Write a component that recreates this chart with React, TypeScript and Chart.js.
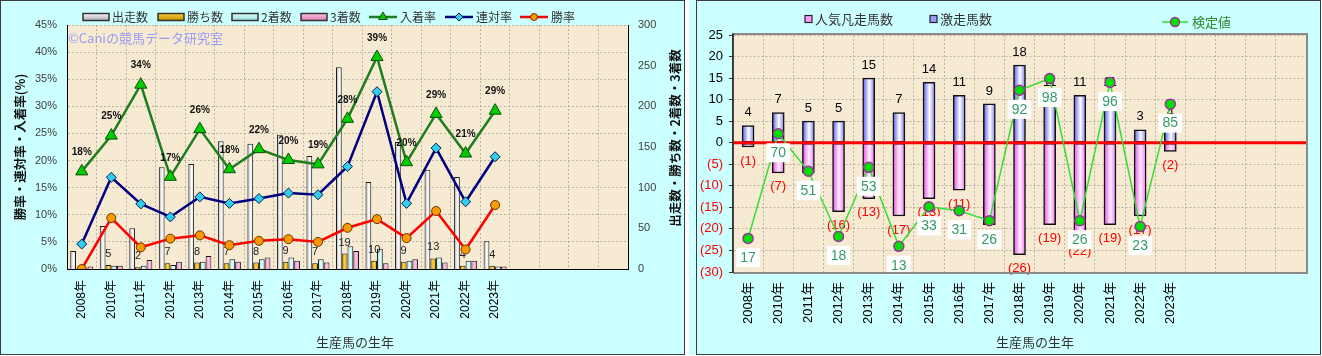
import { useEffect, useRef } from 'react';
import { Chart, registerables } from 'chart.js';

Chart.register(...registerables);

// ---------------- data: left chart ----------------
const BIRTH_YEARS = ['2008年', '2010年', '2011年', '2012年', '2013年', '2014年', '2015年', '2016年', '2017年', '2018年', '2019年', '2020年', '2021年', '2022年', '2023年'];
const SPARE_SLOTS = ['', '', '', ''];
const STARTS = [22, 53, 50, 125, 129, 157, 154, 165, 139, 248, 107, 156, 122, 113, 34];
const WINS = [0, 5, 2, 7, 8, 7, 8, 9, 7, 19, 10, 9, 13, 4, 4];
const SECONDS = [1, 4, 4, 5, 9, 12, 12, 14, 12, 28, 25, 10, 14, 10, 3];
const THIRDS = [3, 4, 11, 9, 16, 9, 14, 10, 8, 22, 7, 12, 8, 10, 3];
const WIN_RATE = [0, 9.4, 4.0, 5.6, 6.2, 4.4, 5.2, 5.5, 5.0, 7.6, 9.2, 5.7, 10.7, 3.6, 11.8];
const QUINELLA_RATE = [4.6, 16.9, 12.0, 9.6, 13.3, 12.1, 13.0, 14.0, 13.7, 18.9, 32.7, 12.1, 22.3, 12.4, 20.7];
const PLACE_RATE = [18.0, 24.6, 34.0, 17.0, 25.8, 18.4, 22.1, 20.1, 19.3, 27.7, 39.1, 19.7, 28.6, 21.3, 29.2];
const PLACE_RATE_LABELS = ['18%', '25%', '34%', '17%', '26%', '18%', '22%', '20%', '19%', '28%', '39%', '20%', '29%', '21%', '29%'];
const PCT_MIN = 0, PCT_MAX = 45, PCT_STEP = 5;
const COUNT_MIN = 0, COUNT_MAX = 300, COUNT_STEP = 50;

// ---------------- data: right chart ----------------
const SURGE_COUNT = [4, 7, 5, 5, 15, 7, 14, 11, 9, 18, 11, 11, 11, 3, 4];
const FLOP_COUNT = [-1, -7, -7, -16, -13, -17, -13, -11, -19, -26, -19, -22, -19, -17, -2];
const TEST_VALUE = [17, 70, 51, 18, 53, 13, 33, 31, 26, 92, 98, 26, 96, 23, 85];
const R_MIN = -30, R_MAX = 25, R_STEP = 5;
const TV_MIN = 0, TV_MAX = 120;

// ---------------- styles ----------------
const FONT_JP = '"Noto Sans CJK JP", "Liberation Sans", sans-serif';
const FONT_NUM = '"Liberation Sans", "Noto Sans CJK JP", sans-serif';
const PARCHMENT = '#F6EAD3';
const GRID = '#BDB3A2';
const PANEL = '#CCFFFF';
const LEFT_CAT_PCT = 0.78;
const RIGHT_BAR_W = 12;

const X_LABELS = [...BIRTH_YEARS, ...SPARE_SLOTS];

function marker(ctx: CanvasRenderingContext2D, style: string, x: number, y: number, r: number, fill: string, stroke: string, lw = 1) {
  ctx.beginPath();
  if (style === 'triangle') {
    ctx.moveTo(x, y - r);
    ctx.lineTo(x + r * 0.866, y + r * 0.5);
    ctx.lineTo(x - r * 0.866, y + r * 0.5);
    ctx.closePath();
  } else if (style === 'rectRot') {
    ctx.moveTo(x, y - r);
    ctx.lineTo(x + r, y);
    ctx.lineTo(x, y + r);
    ctx.lineTo(x - r, y);
    ctx.closePath();
  } else {
    ctx.arc(x, y, r, 0, Math.PI * 2);
  }
  ctx.fillStyle = fill;
  ctx.fill();
  ctx.lineWidth = lw;
  ctx.strokeStyle = stroke;
  ctx.stroke();
}

const leftBarFill = (k: number, stops: [number, string][], solid: string) => (c: any) => {
  const chart = c.chart;
  const xs = chart.scales && chart.scales.x;
  if (!xs || c.dataIndex == null || !chart.chartArea) return solid;
  const cw = xs.getPixelForValue(1) - xs.getPixelForValue(0);
  const bw = (cw * LEFT_CAT_PCT) / 4;
  const cx = xs.getPixelForValue(c.dataIndex) + (k - 1.5) * bw;
  if (!isFinite(cx)) return solid;
  const g = chart.ctx.createLinearGradient(cx - bw / 2, 0, cx + bw / 2, 0);
  for (const [o, col] of stops) g.addColorStop(o, col);
  return g;
};

const rightBarFill = (stops: [number, string][], solid: string) => (c: any) => {
  const chart = c.chart;
  const xs = chart.scales && chart.scales.x;
  if (!xs || c.dataIndex == null || !chart.chartArea) return solid;
  const cx = xs.getPixelForValue(c.dataIndex);
  if (!isFinite(cx)) return solid;
  const g = chart.ctx.createLinearGradient(cx - RIGHT_BAR_W / 2, 0, cx + RIGHT_BAR_W / 2, 0);
  for (const [o, col] of stops) g.addColorStop(o, col);
  return g;
};

function makeLeftChart(canvas: HTMLCanvasElement) {
  let winLabelsDone = false;
  const decor = {
    id: 'leftDecor',
    beforeDraw(chart: any) {
      const { ctx, chartArea: a } = chart;
      ctx.save();
      ctx.fillStyle = PARCHMENT;
      ctx.fillRect(a.left, a.top, a.right - a.left, a.bottom - a.top);
      ctx.restore();
    },
    beforeDatasetsDraw(chart: any) {
      winLabelsDone = false;
      const ctx = chart.ctx;
      ctx.save();
      ctx.font = `13px ${FONT_JP}`;
      ctx.fillStyle = '#9C9CF2';
      ctx.textAlign = 'left';
      ctx.textBaseline = 'middle';
      ctx.fillText('©Caniの競馬データ研究室', 68, 38);
      ctx.restore();
    },
    beforeDatasetDraw(chart: any, args: any) {
      if (args.meta.type !== 'line' || winLabelsDone) return;
      winLabelsDone = true;
      const ctx = chart.ctx;
      const meta = chart.getDatasetMeta(1);
      ctx.save();
      ctx.font = `11px ${FONT_NUM}`;
      ctx.fillStyle = '#222';
      ctx.textAlign = 'center';
      ctx.textBaseline = 'middle';
      meta.data.forEach((el: any, i: number) => {
        const v = WINS[i];
        if (!v) return;
        ctx.fillText(String(v), el.x, el.y - 11);
      });
      ctx.restore();
    },
    afterDatasetsDraw(chart: any) {
      const ctx = chart.ctx;
      const meta = chart.getDatasetMeta(4);
      ctx.save();
      ctx.font = `bold 10px ${FONT_NUM}`;
      ctx.fillStyle = '#111';
      ctx.textAlign = 'center';
      ctx.textBaseline = 'middle';
      meta.data.forEach((el: any, i: number) => {
        ctx.fillText(PLACE_RATE_LABELS[i], el.x, el.y - 19);
      });
      ctx.restore();
    },
    afterDraw(chart: any) {
      const ctx = chart.ctx;
      ctx.save();
      // legend
      const ly = 17;
      const bars = [
        { x: 83, label: '出走数', a: '#A8A8A8', b: '#FFFFFF' },
        { x: 158, label: '勝ち数', a: '#C08A00', b: '#FFD23C' },
        { x: 232, label: '2着数', a: '#8FD8DA', b: '#E8FFFF' },
        { x: 301, label: '3着数', a: '#D77AB0', b: '#FFC4E4' },
      ];
      ctx.font = `12px ${FONT_JP}`;
      ctx.textBaseline = 'middle';
      ctx.textAlign = 'left';
      for (const it of bars) {
        const g = ctx.createLinearGradient(0, ly - 4, 0, ly + 4);
        g.addColorStop(0, it.b);
        g.addColorStop(1, it.a);
        ctx.fillStyle = g;
        ctx.fillRect(it.x, ly - 3.5, 26, 7);
        ctx.lineWidth = 1.5;
        ctx.strokeStyle = '#333';
        ctx.strokeRect(it.x, ly - 3.5, 26, 7);
        ctx.fillStyle = '#333';
        ctx.fillText(it.label, it.x + 29, ly);
      }
      const lines = [
        { x: 369, label: '入着率', color: '#1E7E1E', style: 'triangle', fill: '#00CC00', stroke: '#0B4F0B', r: 5 },
        { x: 445, label: '連対率', color: '#000080', style: 'rectRot', fill: '#33CCEE', stroke: '#00224A', r: 4 },
        { x: 520, label: '勝率', color: '#FF0000', style: 'circle', fill: '#FF9900', stroke: '#663300', r: 3.5 },
      ];
      for (const it of lines) {
        ctx.beginPath();
        ctx.moveTo(it.x, ly);
        ctx.lineTo(it.x + 28, ly);
        ctx.lineWidth = 2.5;
        ctx.strokeStyle = it.color;
        ctx.stroke();
        marker(ctx, it.style, it.x + 14, ly, it.r, it.fill, it.stroke);
        ctx.fillStyle = '#333';
        ctx.fillText(it.label, it.x + 31, ly);
      }
      // axis titles
      ctx.font = `bold 12.5px ${FONT_JP}`;
      ctx.fillStyle = '#111';
      ctx.textAlign = 'center';
      ctx.save();
      ctx.translate(20, 147);
      ctx.rotate(-Math.PI / 2);
      ctx.fillText('勝率・連対率・入着率(%)', 0, 0);
      ctx.restore();
      ctx.save();
      ctx.translate(675, 138);
      ctx.rotate(-Math.PI / 2);
      ctx.fillText('出走数・勝ち数・2着数・3着数', 0, 0);
      ctx.restore();
      ctx.font = `13px ${FONT_JP}`;
      ctx.fillStyle = '#333';
      ctx.fillText('生産馬の生年', 355, 342);
      ctx.restore();
    },
  };

  return new Chart(canvas, {
    type: 'bar',
    data: {
      labels: X_LABELS,
      datasets: [
        { type: 'bar', label: '出走数', data: STARTS, yAxisID: 'y1', order: 1, backgroundColor: leftBarFill(0, [[0, '#A0A0A0'], [0.55, '#FFFFFF'], [1, '#D4D4D4']], '#F0F0F0'), borderColor: '#1A1A1A', borderWidth: 1, categoryPercentage: LEFT_CAT_PCT, barPercentage: 1 },
        { type: 'bar', label: '勝ち数', data: WINS, yAxisID: 'y1', order: 1, backgroundColor: leftBarFill(1, [[0, '#C08A00'], [0.5, '#FFD23C'], [1, '#D9A000']], '#EBB30A'), borderColor: '#1A1A1A', borderWidth: 1, categoryPercentage: LEFT_CAT_PCT, barPercentage: 1 },
        { type: 'bar', label: '2着数', data: SECONDS, yAxisID: 'y1', order: 1, backgroundColor: leftBarFill(2, [[0, '#8FD8DA'], [0.5, '#E4FFFF'], [1, '#A6E6E8']], '#B7EFF0'), borderColor: '#1A1A1A', borderWidth: 1, categoryPercentage: LEFT_CAT_PCT, barPercentage: 1 },
        { type: 'bar', label: '3着数', data: THIRDS, yAxisID: 'y1', order: 1, backgroundColor: leftBarFill(3, [[0, '#D77AB0'], [0.5, '#FFC4E4'], [1, '#E58CC0']], '#F29BC9'), borderColor: '#1A1A1A', borderWidth: 1, categoryPercentage: LEFT_CAT_PCT, barPercentage: 1 },
        { type: 'line', label: '入着率', data: PLACE_RATE, yAxisID: 'y', order: 0, borderColor: '#1E7E1E', borderWidth: 2.5, pointStyle: 'triangle', pointRadius: 7, pointBackgroundColor: '#00CC00', pointBorderColor: '#0B4F0B', pointBorderWidth: 1, tension: 0 },
        { type: 'line', label: '連対率', data: QUINELLA_RATE, yAxisID: 'y', order: 0, borderColor: '#000080', borderWidth: 2.5, pointStyle: 'rectRot', pointRadius: 5, pointBackgroundColor: '#33CCEE', pointBorderColor: '#00224A', pointBorderWidth: 1, tension: 0 },
        { type: 'line', label: '勝率', data: WIN_RATE, yAxisID: 'y', order: 0, borderColor: '#FF0000', borderWidth: 2.5, pointStyle: 'circle', pointRadius: 4.5, pointBackgroundColor: '#FF9900', pointBorderColor: '#663300', pointBorderWidth: 1, tension: 0 },
      ] as any,
    },
    options: {
      responsive: false,
      animation: false,
      events: [],
      layout: { padding: { top: 25, left: 0, right: 0, bottom: 0 } },
      plugins: { legend: { display: false }, tooltip: { enabled: false } },
      scales: {
        x: {
          grid: { color: GRID, lineWidth: 1, drawTicks: false, offset: true },
          border: { color: '#000', width: 1, dash: [2, 2] },
          ticks: { autoSkip: false, minRotation: 90, maxRotation: 90, padding: 11, color: '#000', font: { family: FONT_NUM, size: 12 } },
          afterFit: (s: any) => { s.height = 86; },
        },
        y: {
          position: 'left',
          min: PCT_MIN,
          max: PCT_MAX,
          ticks: { stepSize: PCT_STEP, callback: (v: any) => `${v}%`, color: '#404040', padding: 10, font: { family: FONT_NUM, size: 11 } },
          grid: { color: GRID, lineWidth: 1, drawTicks: false },
          border: { color: '#000', width: 1, dash: [2, 2] },
          afterFit: (s: any) => { s.width = 67; },
        },
        y1: {
          position: 'right',
          min: COUNT_MIN,
          max: COUNT_MAX,
          ticks: { stepSize: COUNT_STEP, color: '#404040', padding: 10, font: { family: FONT_NUM, size: 11 } },
          grid: { display: false, drawTicks: false },
          border: { color: '#000', width: 1 },
          afterFit: (s: any) => { s.width = 57; },
        },
      },
    } as any,
    plugins: [decor],
  });
}

function makeRightChart(canvas: HTMLCanvasElement) {
  const decor = {
    id: 'rightDecor',
    beforeDraw(chart: any) {
      const { ctx, chartArea: a } = chart;
      ctx.save();
      ctx.fillStyle = PARCHMENT;
      ctx.fillRect(a.left, a.top, a.right - a.left, a.bottom - a.top);
      ctx.restore();
    },
    beforeDatasetDraw(chart: any, args: any) {
      if (args.meta.type !== 'line') return;
      const ctx = chart.ctx;
      const a = chart.chartArea;
      const y0 = chart.scales.y.getPixelForValue(0);
      ctx.save();
      ctx.beginPath();
      ctx.moveTo(a.left, y0);
      ctx.lineTo(a.right, y0);
      ctx.lineWidth = 3;
      ctx.strokeStyle = '#FF0000';
      ctx.stroke();
      ctx.font = `13px ${FONT_NUM}`;
      ctx.textAlign = 'center';
      ctx.textBaseline = 'middle';
      ctx.fillStyle = '#000';
      chart.getDatasetMeta(0).data.forEach((el: any, i: number) => {
        ctx.fillText(String(SURGE_COUNT[i]), el.x, el.y - 13);
      });
      ctx.fillStyle = '#FF0000';
      chart.getDatasetMeta(1).data.forEach((el: any, i: number) => {
        ctx.fillText(`(${-FLOP_COUNT[i]})`, el.x, el.y + 14);
      });
      ctx.restore();
    },
    afterDatasetsDraw(chart: any) {
      const ctx = chart.ctx;
      ctx.save();
      ctx.font = `14px ${FONT_NUM}`;
      ctx.textAlign = 'center';
      ctx.textBaseline = 'middle';
      chart.getDatasetMeta(2).data.forEach((el: any, i: number) => {
        const t = String(TEST_VALUE[i]);
        const w = ctx.measureText(t).width + 8;
        const cy = el.y + 19;
        ctx.fillStyle = '#FFFFFF';
        ctx.fillRect(el.x - w / 2, cy - 9.5, w, 19);
        ctx.fillStyle = '#339966';
        ctx.fillText(t, el.x, cy + 0.5);
      });
      ctx.restore();
    },
    afterDraw(chart: any) {
      const ctx = chart.ctx;
      const a = chart.chartArea;
      ctx.save();
      // plot frame
      ctx.lineWidth = 2;
      ctx.strokeStyle = '#8A8A8A';
      ctx.beginPath();
      ctx.moveTo(a.left, a.top - 1);
      ctx.lineTo(a.right + 1, a.top - 1);
      ctx.lineTo(a.right + 1, a.bottom + 1);
      ctx.lineTo(a.left, a.bottom + 1);
      ctx.stroke();
      ctx.lineWidth = 1.5;
      ctx.strokeStyle = '#333';
      ctx.beginPath();
      ctx.moveTo(a.left, a.top - 2);
      ctx.lineTo(a.left, a.bottom + 1);
      ctx.stroke();
      // legend
      ctx.font = `13px ${FONT_JP}`;
      ctx.textAlign = 'left';
      ctx.textBaseline = 'middle';
      const sq = [
        { x: 116, label: '人気凡走馬数', fill: '#FF99FF' },
        { x: 241, label: '激走馬数', fill: '#9A9AFF' },
      ];
      for (const it of sq) {
        ctx.fillStyle = it.fill;
        ctx.fillRect(it.x, 15.5, 7, 7);
        ctx.lineWidth = 1.2;
        ctx.strokeStyle = '#222';
        ctx.strokeRect(it.x, 15.5, 7, 7);
        ctx.fillStyle = '#333';
        ctx.fillText(it.label, it.x + 10, 19);
      }
      ctx.beginPath();
      ctx.moveTo(473, 22);
      ctx.lineTo(499, 22);
      ctx.lineWidth = 1.5;
      ctx.strokeStyle = '#33DD33';
      ctx.stroke();
      marker(ctx, 'circle', 486, 22, 4.5, '#00E000', '#993399', 1.5);
      ctx.fillStyle = '#2E8B2E';
      ctx.fillText('検定値', 503, 22);
      // x title
      ctx.textAlign = 'center';
      ctx.fillStyle = '#333';
      ctx.fillText('生産馬の生年', 346, 342);
      ctx.restore();
    },
  };

  return new Chart(canvas, {
    type: 'bar',
    data: {
      labels: X_LABELS,
      datasets: [
        { type: 'bar', label: '激走馬数', data: SURGE_COUNT, yAxisID: 'y', order: 1, backgroundColor: rightBarFill([[0, '#5454EE'], [0.55, '#FFFFFF'], [1, '#7878F4']], '#9A9AFF'), borderColor: '#111', borderWidth: 1.5, borderSkipped: false, barThickness: RIGHT_BAR_W },
        { type: 'bar', label: '人気凡走馬数', data: FLOP_COUNT, yAxisID: 'y', order: 1, backgroundColor: rightBarFill([[0, '#E84CE8'], [0.55, '#FFEFFF'], [1, '#F070F0']], '#FF99FF'), borderColor: '#111', borderWidth: 1.5, borderSkipped: false, barThickness: RIGHT_BAR_W },
        { type: 'line', label: '検定値', data: TEST_VALUE, yAxisID: 'y2', order: 0, borderColor: '#33DD33', borderWidth: 1.5, pointRadius: 5, pointBackgroundColor: '#00E000', pointBorderColor: '#993399', pointBorderWidth: 1.5, tension: 0 },
      ] as any,
    },
    options: {
      responsive: false,
      animation: false,
      events: [],
      layout: { padding: { top: 35, left: 0, right: 15, bottom: 0 } },
      plugins: { legend: { display: false }, tooltip: { enabled: false } },
      scales: {
        x: {
          stacked: true,
          grid: { color: GRID, lineWidth: 1, drawTicks: false, offset: true },
          border: { color: '#8A8A8A', width: 1, dash: [2, 2] },
          ticks: { autoSkip: false, minRotation: 90, maxRotation: 90, padding: 10, color: '#000', font: { family: FONT_NUM, size: 13 } },
          afterFit: (s: any) => { s.height = 83; },
        },
        y: {
          stacked: true,
          position: 'left',
          min: R_MIN,
          max: R_MAX,
          ticks: {
            stepSize: R_STEP,
            callback: (v: any) => (v < 0 ? `(${-v})` : `${v}`),
            color: (c: any) => (c.tick && c.tick.value < 0 ? '#FF0000' : '#000000'),
            padding: 6,
            font: { family: FONT_NUM, size: 13 },
          },
          grid: { color: GRID, lineWidth: 1, drawTicks: true, tickLength: 4, tickColor: '#333', tickBorderDash: [] },
          border: { color: '#333', width: 1.5, dash: [2, 2] },
          afterFit: (s: any) => { s.width = 44; },
        },
        y2: { display: false, min: TV_MIN, max: TV_MAX },
      },
    } as any,
    plugins: [decor],
  });
}

export default function App() {
  const leftRef = useRef<HTMLCanvasElement>(null);
  const rightRef = useRef<HTMLCanvasElement>(null);

  useEffect(() => {
    if (!leftRef.current || !rightRef.current) return;
    const c1 = makeLeftChart(leftRef.current);
    const c2 = makeRightChart(rightRef.current);
    return () => {
      c1.destroy();
      c2.destroy();
    };
  }, []);

  return (
    <div style={{ position: 'absolute', left: 0, top: 0, width: 1322, height: 356, background: '#FFFFFF', overflow: 'hidden' }}>
      <div style={{ position: 'absolute', left: 0, top: 0, width: 685, height: 355, background: PANEL, border: '1px solid #3C3C3C', boxSizing: 'border-box' }} />
      <canvas ref={leftRef} width={685} height={355} style={{ position: 'absolute', left: 0, top: 0, width: 685, height: 355 }} />
      <div style={{ position: 'absolute', left: 689, top: 0, width: 632, height: 355, background: PANEL }} />
      <div style={{ position: 'absolute', left: 696, top: 0, width: 625, height: 355, border: '1px solid #3C3C3C', boxSizing: 'border-box' }} />
      <canvas ref={rightRef} width={632} height={355} style={{ position: 'absolute', left: 689, top: 0, width: 632, height: 355 }} />
    </div>
  );
}
